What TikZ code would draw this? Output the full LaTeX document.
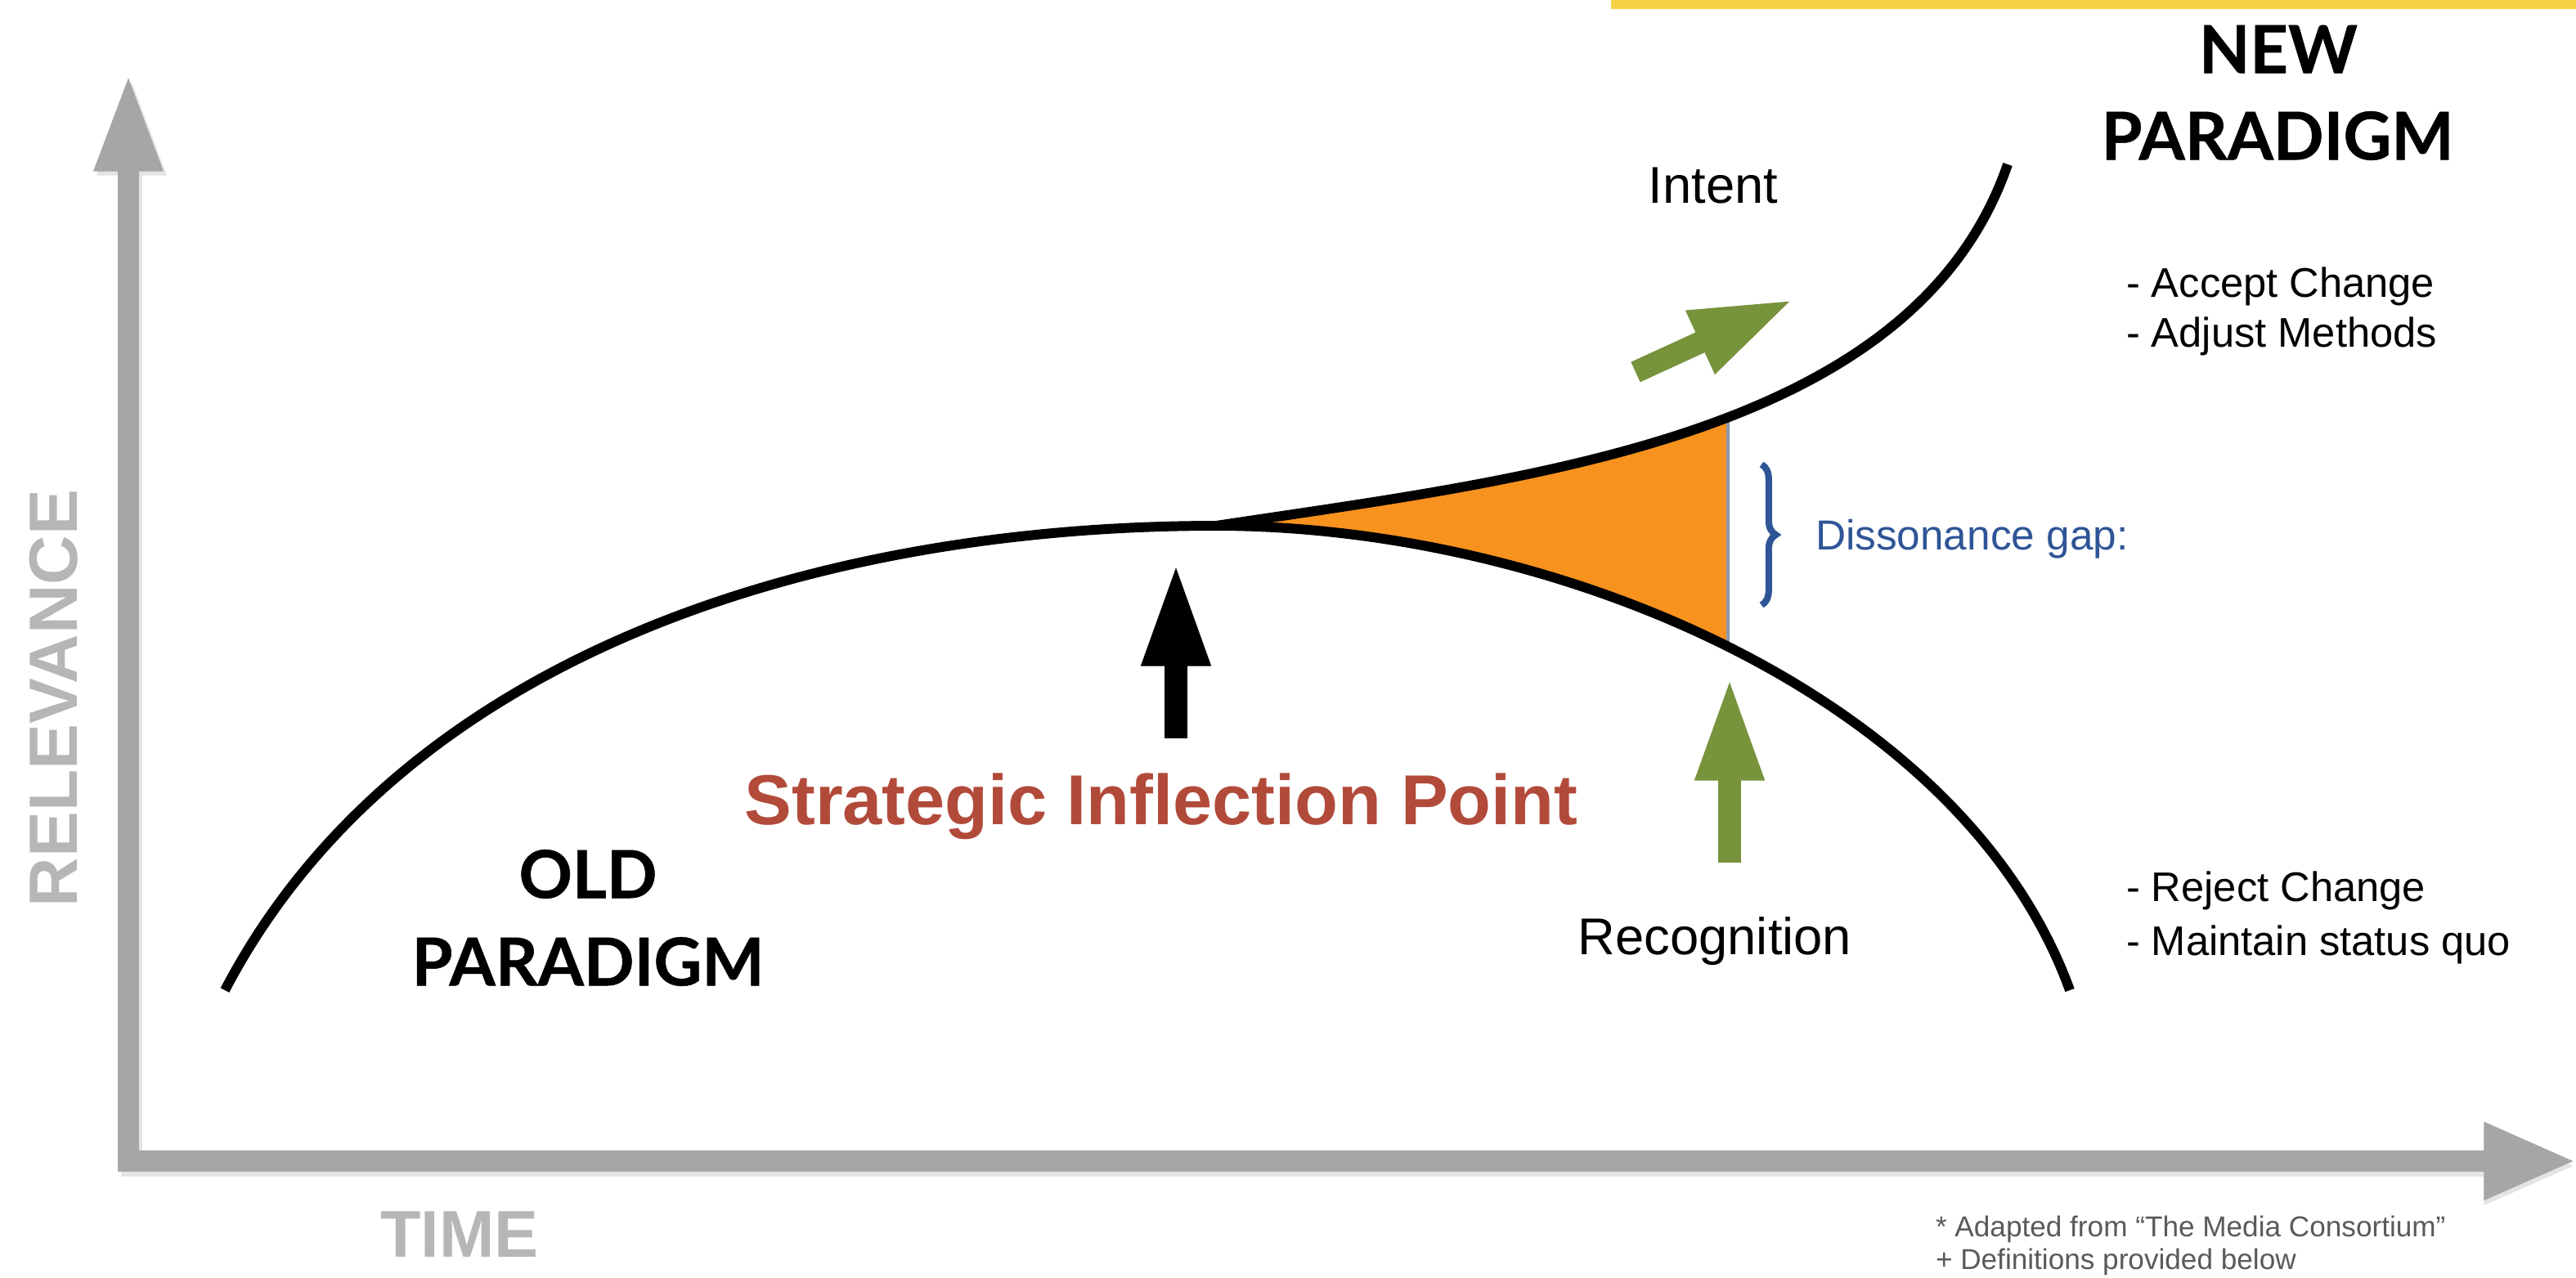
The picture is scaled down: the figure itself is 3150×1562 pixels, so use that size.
\documentclass[tikz,border=0pt]{standalone}
\usepackage{fontspec}
\setmainfont{Liberation Sans}
\newfontfamily\latofont{Lato}[BoldFeatures={FakeBold=0.6}]
\usetikzlibrary{arrows.meta,intersections,decorations.pathreplacing}
\definecolor{axisgray}{RGB}{166,166,166}
\definecolor{shadowgray}{RGB}{228,228,228}
\definecolor{labelgray}{RGB}{182,182,182}
\definecolor{notegray}{RGB}{90,90,90}
\definecolor{sipred}{RGB}{178,74,58}
\definecolor{gapblue}{RGB}{47,85,151}
\definecolor{gapline}{RGB}{140,152,172}
\definecolor{fillorange}{RGB}{247,146,30}
\definecolor{olivegreen}{RGB}{119,147,60}
\definecolor{topyellow}{RGB}{245,209,66}
\begin{document}
\begin{tikzpicture}[x=0.01cm,y=-0.01cm,
  txt/.style={inner sep=0pt, outer sep=0pt},
  axisline/.style={draw=axisgray, line width=7.4pt, line join=miter},
  curveline/.style={draw=black, line width=3.4pt},
  blockarrow/.style={draw=#1, line width=7.7pt, -{Triangle[length=36pt,width=22pt]}},
  paradigm/.style={txt, font=\latofont\bfseries\fontsize{23}{27}\selectfont, align=center},
  bullet/.style={txt, anchor=base west, font=\fontsize{14.4}{17}\selectfont},
  note/.style={txt, anchor=base west, text=notegray, font=\fontsize{10}{12}\selectfont}
]
\useasboundingbox (0,0) rectangle (3150,1562);
\fill[white] (0,0) rectangle (3150,1562);
% top yellow bar
\fill[topyellow] (1970,0) rectangle (3150,11);

% axes
\coordinate (vtip) at (157,90);
\coordinate (corner) at (157,1420);
\coordinate (htip) at (3150,1420);
\coordinate (vtips) at (161,95);
\coordinate (corners) at (161,1426);
\coordinate (htips) at (3150,1426);
\draw[axisline, draw=shadowgray, {Triangle[length=34pt,width=22pt]}-{Triangle[length=32pt,width=25pt]}] (vtips) -- (corners) -- (htips);
\draw[axisline, {Triangle[length=34pt,width=22pt]}-{Triangle[length=32pt,width=25pt]}] (vtip) -- (corner) -- (htip);

\node[txt, rotate=90, text=labelgray, font=\bfseries\fontsize{23.8}{28}\selectfont] (relevance) at (66,854) {RELEVANCE};
\node[txt, text=labelgray, font=\bfseries\fontsize{23}{27}\selectfont] (time) at (562,1510) {TIME};

% curves
\coordinate (S) at (275,1211);
\coordinate (P) at (1487,643);
\coordinate (N) at (2455,201);
\coordinate (E) at (2531,1211);
\path[name path=newc] (P) .. controls (1870,585) and (2340,535) .. (N);
\path[name path=oldr] (P) .. controls (1900,643) and (2400,850) .. (E);
\path[name path=vgap] (2113,300) -- (2113,1000);
\path[name intersections={of=newc and vgap, by=gt}];
\path[name intersections={of=oldr and vgap, by=gb}];

\begin{scope}
  \clip (1487,0) rectangle (2113,1562);
  \fill[fillorange] (P) .. controls (1870,585) and (2340,535) .. (N) -- (E)
       .. controls (2400,850) and (1900,643) .. (P) -- cycle;
\end{scope}
\draw[gapline, line width=1.2pt] (gt) -- (gb);

\draw[curveline] (S) .. controls (490,800) and (1000,643) .. (P)
                     .. controls (1900,643) and (2400,850) .. (E);
\draw[curveline] (P) .. controls (1870,585) and (2340,535) .. (N);

% brace
\coordinate (bt) at (2154,568);
\coordinate (bb) at (2154,740);
\draw[gapblue, line width=2.3pt, decorate, decoration={brace, amplitude=5pt}] (bt) -- (bb);
\node[txt, anchor=west, text=gapblue, font=\fontsize{14.6}{17}\selectfont] (gap) at (2220,659) {Dissonance gap:};

% arrows
\coordinate (ba0) at (1438,903);
\coordinate (ba1) at (1438,688);
\draw[blockarrow=black] (ba0) -- (ba1);
\coordinate (ga0) at (2115,1055);
\coordinate (ga1) at (2115,828);
\draw[blockarrow=olivegreen] (ga0) -- (ga1);
\coordinate (da0) at (2000,455);
\coordinate (da1) at (2194,366);
\draw[blockarrow=olivegreen] (da0) -- (da1);

% labels
\node[txt, text=sipred, font=\bfseries\fontsize{24.6}{29}\selectfont] (sip) at (1420,986) {Strategic Inflection Point};
\node[paradigm] (old) at (719,1069) {OLD};
\node[paradigm] (oldp) at (719,1176) {PARADIGM};
\node[paradigm] (new) at (2786,60) {NEW};
\node[paradigm] (newp) at (2785,166) {PARADIGM};
\node[txt, font=\fontsize{18}{21}\selectfont] (intent) at (2095,227) {Intent};
\node[txt, font=\fontsize{18}{21}\selectfont] (recog) at (2097,1151) {Recognition};

\node[bullet] (acc) at (2600,363) {- Accept Change};
\node[bullet] (adj) at (2600,424) {- Adjust Methods};
\node[bullet] (rej) at (2600,1102) {- Reject Change};
\node[bullet] (mai) at (2600,1168) {- Maintain status quo};

\node[note] (n1) at (2367,1512) {* Adapted from “The Media Consortium”};
\node[note] (n2) at (2367,1552) {+ Definitions provided below};
\end{tikzpicture}
\end{document}
